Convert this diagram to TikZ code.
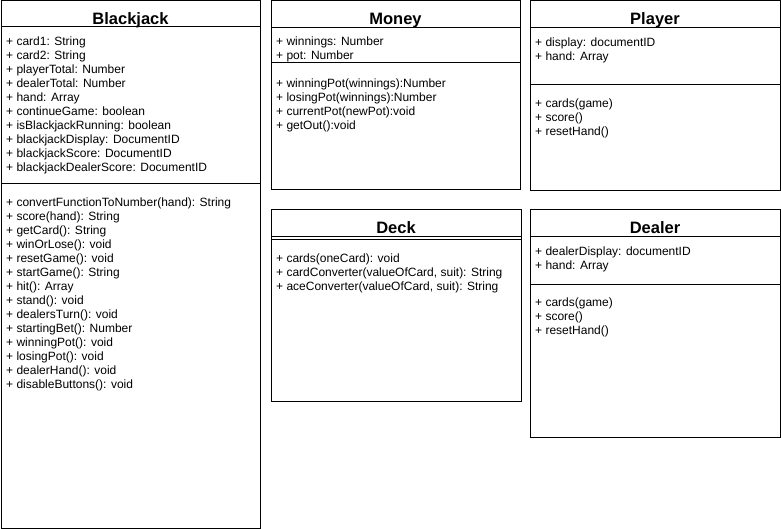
\documentclass[tikz,border=0pt]{standalone}
\usepackage{fontspec}
\setmainfont{Liberation Sans}
\begin{document}
\begin{tikzpicture}[x=1pt,y=-1pt,
  box/.style={draw=black,line width=1pt,fill=white},
  sep/.style={draw=black,line width=1pt},
  title/.style={font=\fontsize{16.5}{18}\selectfont\bfseries,inner sep=0pt,text height=11.8pt,text depth=0pt},
  item/.style={font=\fontsize{12}{14}\selectfont,anchor=west,inner sep=0pt,text height=8.6pt,text depth=0pt}]
\useasboundingbox (0,0) rectangle (781,529);
% Blackjack
\draw[box] (1,1) rectangle (260,528);
\draw[sep] (1,27) -- (260,27);
\draw[sep] (1,184) -- (260,184);
\node[title] (bjt) at (130.5,18.5) {Blackjack};
\foreach \t [count=\i from 0] in {card1: String,card2: String,playerTotal: Number,dealerTotal: Number,hand: Array,continueGame: boolean,isBlackjackRunning: boolean,blackjackDisplay: DocumentID,blackjackScore: DocumentID,blackjackDealerScore: DocumentID}
  \node[item] (bja\i) at (6,40.8+14*\i) {+ \t};
\foreach \t [count=\i from 0] in {convertFunctionToNumber(hand): String,score(hand): String,getCard(): String,winOrLose(): void,resetGame(): void,startGame(): String,hit(): Array,stand(): void,dealersTurn(): void,startingBet(): Number,winningPot(): void,losingPot(): void,dealerHand(): void,disableButtons(): void}
  \node[item] (bjm\i) at (6,201.8+14*\i) {+ \t};
% Money
\draw[box] (271,1) rectangle (520,190);
\draw[sep] (271,28) -- (520,28);
\draw[sep] (271,63) -- (520,63);
\node[title] (mot) at (395.5,19) {Money};
\node[item] (moa0) at (276,40.8) {+ winnings: Number};
\node[item] (moa1) at (276,54.8) {+ pot: Number};
\node[item] (mom0) at (276,82.8) {+ winningPot(winnings):Number};
\node[item] (mom1) at (276,96.8) {+ losingPot(winnings):Number};
\node[item] (mom2) at (276,110.8) {+ currentPot(newPot):void};
\node[item] (mom3) at (276,124.8) {+ getOut():void};
% Player
\draw[box] (530,1) rectangle (780,191);
\draw[sep] (530,28) -- (780,28);
\draw[sep] (530,85) -- (780,85);
\node[title] (plt) at (655,18.5) {Player};
\node[item] (pla0) at (535,41.8) {+ display: documentID};
\node[item] (pla1) at (535,55.8) {+ hand: Array};
\node[item] (plm0) at (535,102.8) {+ cards(game)};
\node[item] (plm1) at (535,116.8) {+ score()};
\node[item] (plm2) at (535,130.8) {+ resetHand()};
% Deck
\draw[box] (271,210) rectangle (521,401);
\draw[sep] (271,237) -- (521,237);
\draw[sep] (271,240) -- (521,240);
\node[title] (det) at (396,227.5) {Deck};
\node[item] (dem0) at (276,257.8) {+ cards(oneCard): void};
\node[item] (dem1) at (276,271.8) {+ cardConverter(valueOfCard, suit): String};
\node[item] (dem2) at (276,285.8) {+ aceConverter(valueOfCard, suit): String};
% Dealer
\draw[box] (530,210) rectangle (780,437);
\draw[sep] (530,237) -- (780,237);
\draw[sep] (530,284) -- (780,284);
\node[title] (dlt) at (655,227.5) {Dealer};
\node[item] (dla0) at (535,250.8) {+ dealerDisplay: documentID};
\node[item] (dla1) at (535,264.8) {+ hand: Array};
\node[item] (dlm0) at (535,301.8) {+ cards(game)};
\node[item] (dlm1) at (535,315.8) {+ score()};
\node[item] (dlm2) at (535,329.8) {+ resetHand()};
\end{tikzpicture}
\end{document}
